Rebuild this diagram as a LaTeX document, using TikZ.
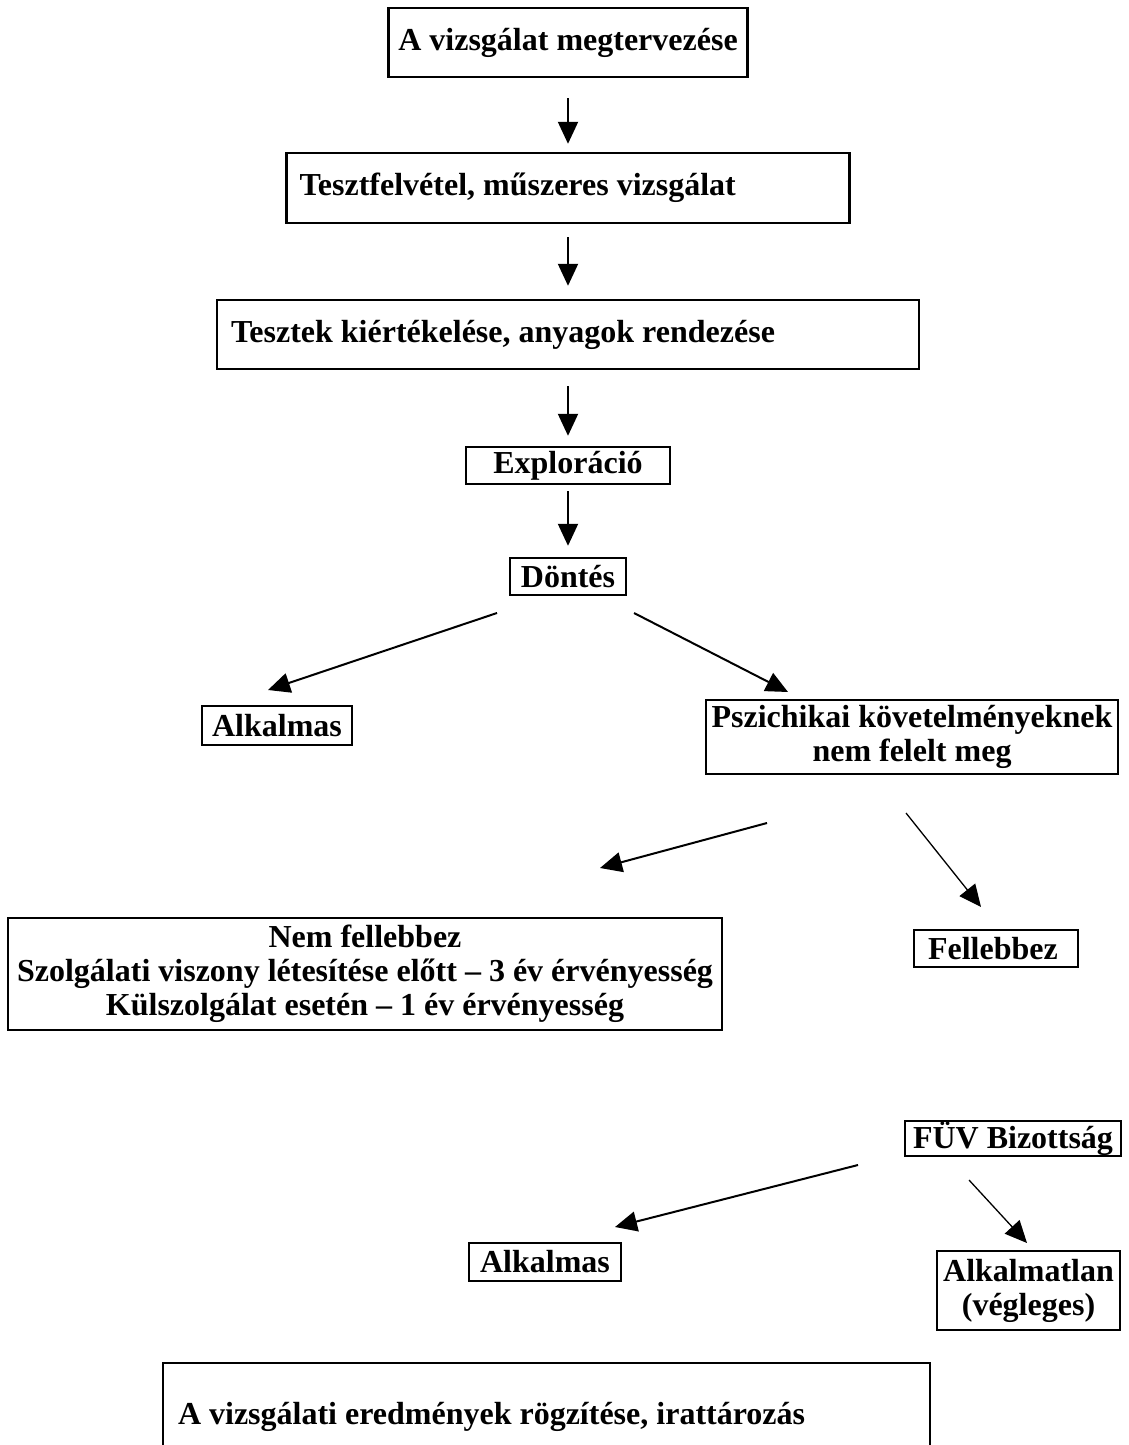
\documentclass[tikz,border=0pt]{standalone}
\usepackage{fontspec}
\setmainfont{Liberation Serif}
\usetikzlibrary{arrows.meta}
\begin{document}
\begin{tikzpicture}[x=1pt,y=-1pt,
  box/.style={draw, line width=2.4pt, inner sep=0pt, font=\fontsize{32}{34}\selectfont\bfseries, align=center},
  lbox/.style={box, align=flush left},
  arr/.style={line width=2pt, -{Triangle[length=22pt,width=20pt]}},
  thinarr/.style={line width=1.3pt, -{Triangle[length=22pt,width=20pt]}}]
\useasboundingbox (0,0) rectangle (1129,1445);
\clip (0,0) rectangle (1129,1445);

\node[box, minimum width=359pt, minimum height=69pt] (b1) at (568,42.5) {A vizsgálat megtervezése};
\node[lbox, minimum height=70pt, inner xsep=13pt, text width=537pt] (b2) at (568,188) {Tesztfelvétel, műszeres vizsgálat};
\node[lbox, minimum height=69pt, inner xsep=14pt, text width=674pt] (b3) at (568,334.5) {Tesztek kiértékelése, anyagok rendezése};
\node[box, minimum width=204pt, minimum height=37pt] (b4) at (568,465.5) {Exploráció};
\node[box, minimum width=116pt, minimum height=37pt] (b5) at (568,576.5) {Döntés};
\node[box, minimum width=150pt, minimum height=39pt] (b6) at (277,725.5) {Alkalmas};
\node[box, minimum width=412pt, minimum height=74pt] (b7) at (912,737) {Pszichikai követelményeknek\\nem felelt meg};
\node[box, minimum width=714pt, minimum height=112pt] (b8) at (365,974) {Nem fellebbez\\Szolgálati viszony létesítése előtt – 3 év érvényesség\\Külszolgálat esetén – 1 év érvényesség};
\node[lbox, minimum height=37pt, inner xsep=14pt, text width=136pt] (b9) at (996,948.5) {Fellebbez};
\node[box, minimum width=216pt, minimum height=35pt] (b10) at (1013,1138.5) {FÜV Bizottság};
\node[box, minimum width=152pt, minimum height=38pt] (b11) at (545,1262) {Alkalmas};
\node[box, minimum width=183pt, minimum height=79pt] (b12) at (1028.5,1290.5) {Alkalmatlan\\(végleges)};
\node[lbox, minimum height=108pt, inner xsep=15pt, text width=737pt] (b13) at (546.5,1417) {A vizsgálati eredmények rögzítése, irattározás};

\draw[arr, shorten <=20pt, shorten >=8pt] (b1.south) -- (b2.north);
\draw[arr, shorten <=13pt, shorten >=13pt] (b2.south) -- (b3.north);
\draw[arr, shorten <=16pt, shorten >=10pt] (b3.south) -- (b4.north);
\draw[arr, shorten <=6pt, shorten >=11pt] (b4.south) -- (b5.north);

\coordinate (s1) at (497,613);  \coordinate (e1) at (268,690);
\coordinate (s2) at (634,613);  \coordinate (e2) at (788,692);
\coordinate (s3) at (767,823);  \coordinate (e3) at (600,868);
\coordinate (s4) at (906,813);  \coordinate (e4) at (981,907);
\coordinate (s5) at (858,1165); \coordinate (e5) at (615,1227);
\coordinate (s6) at (969,1180); \coordinate (e6) at (1027,1243);
\draw[arr] (s1) -- (e1);
\draw[arr] (s2) -- (e2);
\draw[arr] (s3) -- (e3);
\draw[thinarr] (s4) -- (e4);
\draw[arr] (s5) -- (e5);
\draw[thinarr] (s6) -- (e6);
\end{tikzpicture}
\end{document}
